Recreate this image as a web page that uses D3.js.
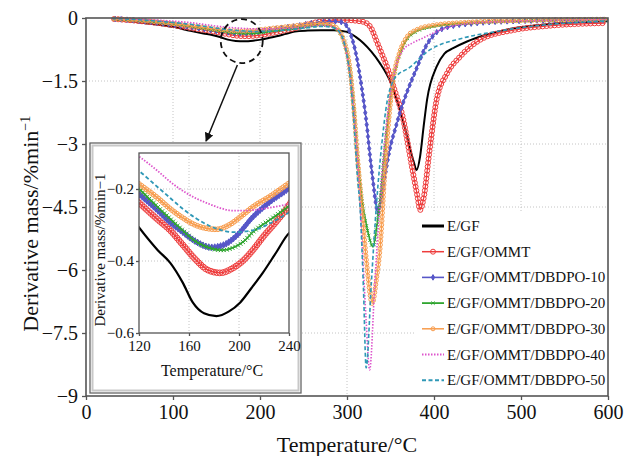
<!DOCTYPE html>
<html>
<head>
<meta charset="utf-8">
<script src="https://cdn.jsdelivr.net/npm/d3@7"></script>
<style>
body { margin: 0; background: #fff; }
svg, text { font-family: "Liberation Serif", "Times New Roman", Times, serif; }
text { fill: #111; }
</style>
</head>
<body>
<script>
// tick values
var xTicks = [0, 100, 200, 300, 400, 500, 600];
var yTicks = [0, -1.5, -3, -4.5, -6, -7.5, -9];
var insetXTicks = [120, 160, 200, 240];
var insetYTicks = [-0.2, -0.4, -0.6];

var names = ["E/GF", "E/GF/OMMT", "E/GF/OMMT/DBDPO-10", "E/GF/OMMT/DBDPO-20",
             "E/GF/OMMT/DBDPO-30", "E/GF/OMMT/DBDPO-40", "E/GF/OMMT/DBDPO-50"];

// [temperature, derivative mass]
var egf = [[30,-0.03],[60,-0.1],[90,-0.18],[100,-0.21],[120,-0.307],[135,-0.37],[145,-0.405],[155,-0.46],[163,-0.515],[172,-0.545],[182,-0.553],[192,-0.54],[201,-0.515],[210,-0.475],[219,-0.433],[230,-0.375],[240,-0.323],[255,-0.3],[270,-0.29],[285,-0.29],[300,-0.33],[310,-0.45],[319,-0.6],[328,-0.8],[338,-1.08],[349,-1.48],[361,-2.19],[372,-3.07],[377,-3.45],[380,-3.62],[384,-3.3],[388,-2.6],[392,-1.95],[403,-1.16],[412,-0.85],[422,-0.72],[438,-0.56],[460,-0.4],[490,-0.25],[530,-0.15],[600,-0.08]];
var egfOmmt = [[30,-0.02],[60,-0.07],[90,-0.14],[120,-0.238],[135,-0.285],[145,-0.315],[155,-0.355],[165,-0.395],[175,-0.425],[185,-0.433],[195,-0.42],[203,-0.4],[211,-0.37],[220,-0.33],[230,-0.29],[240,-0.245],[255,-0.15],[270,-0.08],[285,-0.05],[300,-0.05],[312,-0.07],[320,-0.1],[328,-0.25],[334,-0.55],[340,-0.85],[346,-1.16],[356,-1.8],[364,-2.35],[370,-3.0],[376,-3.7],[381,-4.25],[384,-4.57],[388,-4.3],[395,-3.14],[403,-1.95],[415,-1.32],[430,-0.92],[453,-0.52],[491,-0.29],[530,-0.19],[597,-0.12]];
var dbdpo10 = [[30,-0.02],[60,-0.06],[90,-0.13],[120,-0.214],[135,-0.26],[145,-0.293],[155,-0.32],[165,-0.345],[178,-0.362],[188,-0.355],[198,-0.33],[211,-0.278],[225,-0.235],[240,-0.197],[255,-0.14],[270,-0.1],[285,-0.08],[294,-0.1],[300,-0.2],[306,-0.5],[311,-0.92],[315,-1.4],[319,-1.95],[323,-2.6],[326,-3.2],[330,-3.9],[333,-4.4],[336,-4.65],[339,-4.35],[343,-3.85],[349,-3.14],[356,-2.6],[364,-2.05],[372,-1.6],[380,-1.2],[390,-0.7],[400,-0.4],[415,-0.22],[450,-0.12],[500,-0.07],[600,-0.04]];
var dbdpo20 = [[30,-0.02],[60,-0.06],[90,-0.12],[120,-0.2],[135,-0.25],[145,-0.283],[155,-0.315],[165,-0.345],[175,-0.362],[186,-0.37],[196,-0.362],[204,-0.345],[211,-0.32],[225,-0.285],[240,-0.247],[255,-0.2],[270,-0.17],[280,-0.18],[290,-0.3],[297,-0.6],[303,-1.2],[308,-2.2],[312,-3.3],[317,-4.3],[323,-5.0],[330,-5.45],[334,-5.0],[338,-4.33],[345,-2.8],[353,-1.48],[360,-0.9],[369,-0.5],[380,-0.32],[400,-0.2],[440,-0.12],[500,-0.07],[600,-0.04]];
var dbdpo30 = [[30,-0.02],[60,-0.055],[90,-0.11],[120,-0.186],[135,-0.225],[145,-0.255],[155,-0.28],[165,-0.3],[175,-0.31],[182,-0.312],[192,-0.3],[202,-0.275],[211,-0.25],[225,-0.22],[240,-0.184],[255,-0.15],[270,-0.13],[280,-0.15],[290,-0.28],[297,-0.58],[303,-1.15],[308,-2.2],[312,-3.3],[317,-4.5],[322,-5.7],[329,-6.8],[334,-6.2],[338,-5.5],[344,-3.5],[353,-1.48],[360,-0.85],[369,-0.45],[380,-0.28],[400,-0.17],[440,-0.1],[500,-0.06],[600,-0.03]];
var dbdpo40 = [[30,-0.01],[60,-0.03],[90,-0.06],[120,-0.11],[135,-0.15],[145,-0.18],[155,-0.205],[165,-0.225],[175,-0.24],[185,-0.253],[195,-0.26],[205,-0.26],[215,-0.257],[228,-0.25],[240,-0.24],[255,-0.21],[270,-0.18],[282,-0.2],[292,-0.35],[300,-0.9],[305,-1.6],[310,-2.8],[314,-4.0],[318,-5.6],[322,-7.2],[326,-8.38],[332,-6.3],[338,-4.33],[344,-2.8],[350,-1.8],[357,-1.1],[365,-0.75],[375,-0.6],[387,-0.48],[400,-0.35],[420,-0.2],[460,-0.1],[600,-0.04]];
var dbdpo50 = [[30,-0.01],[60,-0.04],[90,-0.09],[120,-0.15],[135,-0.195],[145,-0.225],[155,-0.255],[165,-0.28],[175,-0.3],[182,-0.31],[195,-0.32],[205,-0.318],[211,-0.315],[225,-0.295],[240,-0.265],[255,-0.23],[270,-0.2],[282,-0.22],[290,-0.3],[298,-0.7],[303,-1.3],[308,-2.5],[312,-3.8],[315,-4.5],[319,-6.5],[322,-8.33],[328,-6.3],[334,-4.4],[340,-3.0],[346,-2.0],[353,-1.5],[360,-1.32],[369,-1.22],[395,-0.76],[433,-0.48],[472,-0.32],[530,-0.16],[600,-0.07]];

var seriesData = [egf, egfOmmt, dbdpo10, dbdpo20, dbdpo30, dbdpo40, dbdpo50];

// line styles, same order as names
var styles = [
    {color: "#000000", width: 2, dash: null, marker: null},
    {color: "#ee3c3c", width: 1.2, dash: null, marker: "circle", r: 2.5, step: 4},
    {color: "#5656c8", width: 1.3, dash: null, marker: "diamond", size: 9, step: 6},
    {color: "#2fa52f", width: 1.5, dash: null, marker: "x", size: 8, step: 5},
    {color: "#f89c4c", width: 1.2, dash: null, marker: "circle", r: 2, step: 4},
    {color: "#dd55cc", width: 1.6, dash: "1.5,1.5", marker: null},
    {color: "#2f98b6", width: 1.6, dash: "4,2.5", marker: null}
];

var svg = d3.select("body").append("svg")
    .attr("width", 625)
    .attr("height", 456);

var x = d3.scaleLinear().domain([0, 600]).range([86, 608]);
var y = d3.scaleLinear().domain([-9, 0]).range([396, 18]);

// dotted grid
svg.append("g").selectAll("line")
    .data(xTicks.slice(1, -1)).enter().append("line")
    .attr("x1", d => x(d)).attr("x2", d => x(d))
    .attr("y1", y(0)).attr("y2", y(-9))
    .attr("stroke", "#c4c4c4").attr("stroke-dasharray", "1,2");
svg.append("g").selectAll("line")
    .data(yTicks.slice(1, -1)).enter().append("line")
    .attr("y1", d => y(d)).attr("y2", d => y(d))
    .attr("x1", x(0)).attr("x2", x(600))
    .attr("stroke", "#c4c4c4").attr("stroke-dasharray", "1,2");

var line = d3.line()
    .x(d => x(d[0]))
    .y(d => y(d[1]))
    .curve(d3.curveMonotoneX);

// markers spread evenly along a drawn path
function addMarkers(g, node, s)
{
    var len = node.getTotalLength();
    var pts = d3.range(s.step / 2, len, s.step).map(l => node.getPointAtLength(l));
    drawMarker(g, pts, s);
}

function drawMarker(g, pts, s)
{
    if (s.marker == "circle")
    {
        g.selectAll(null).data(pts).enter().append("circle")
            .attr("cx", p => p.x).attr("cy", p => p.y).attr("r", s.r)
            .attr("fill", "none").attr("stroke", s.color).attr("stroke-width", 1);
    }
    else if (s.marker)
    {
        var sym = d3.symbol()
            .type(s.marker == "diamond" ? d3.symbolDiamond : d3.symbolX)
            .size(s.size);
        g.selectAll(null).data(pts).enter().append("path")
            .attr("d", sym)
            .attr("transform", p => "translate(" + p.x + "," + p.y + ")")
            .attr("fill", s.marker == "diamond" ? s.color : "none")
            .attr("stroke", s.color).attr("stroke-width", 1);
    }
}

var curves = svg.append("g");
seriesData.forEach(function(data, i)
{
    var s = styles[i];
    var p = curves.append("path")
        .datum(data)
        .attr("d", line)
        .attr("fill", "none")
        .attr("stroke", s.color)
        .attr("stroke-width", s.width)
        .attr("stroke-dasharray", s.dash);
    addMarkers(curves, p.node(), s);
});

// frame and axes
svg.append("rect")
    .attr("x", x(0)).attr("y", y(0))
    .attr("width", x(600) - x(0)).attr("height", y(-9) - y(0))
    .attr("fill", "none").attr("stroke", "#555").attr("stroke-width", 1.6);

var fmt = d3.format("");
function styleAxis(g, size)
{
    g.attr("font-family", null).attr("font-size", null);
    g.select(".domain").remove();
    g.selectAll("line").attr("stroke", "#555").attr("stroke-width", 1.3);
    g.selectAll("text").attr("font-size", size).attr("fill", "#111");
}

svg.append("g")
    .attr("transform", "translate(0," + y(-9) + ")")
    .call(d3.axisBottom(x).tickValues(xTicks).tickSize(4).tickPadding(5).tickFormat(fmt))
    .call(g => styleAxis(g, 20));

svg.append("g")
    .attr("transform", "translate(" + x(0) + ",0)")
    .call(d3.axisLeft(y).tickValues(yTicks).tickSize(4).tickPadding(4).tickFormat(fmt))
    .call(g => styleAxis(g, 20));

svg.append("text")
    .attr("x", (x(0) + x(600)) / 2).attr("y", 452)
    .attr("text-anchor", "middle").attr("font-size", 22)
    .text("Temperature/°C");

var ylab = svg.append("text")
    .attr("transform", "translate(38," + y(-4.9) + ") rotate(-90)")
    .attr("text-anchor", "middle").attr("font-size", 22);
ylab.append("tspan").text("Derivative mass/%min");
ylab.append("tspan").attr("font-size", 14).attr("dy", -8).text("−1");

// legend, white box hides the grid behind it
var legend = svg.append("g");
legend.append("rect")
    .attr("x", 414).attr("y", 213).attr("width", 192).attr("height", 181)
    .attr("fill", "#fff");
names.forEach(function(name, i)
{
    var s = styles[i];
    var ly = 226 + i * 25.7;
    legend.append("line")
        .attr("x1", 422).attr("x2", 444).attr("y1", ly).attr("y2", ly)
        .attr("stroke", s.color).attr("stroke-width", s.width + (i == 0 ? 1 : 0.3))
        .attr("stroke-dasharray", s.dash);
    drawMarker(legend, [{x: 433, y: ly}], s);
    legend.append("text")
        .attr("x", 447).attr("y", ly + 5)
        .attr("font-size", 15)
        .text(name);
});

// dashed circle and arrow pointing to the inset
svg.append("ellipse")
    .attr("cx", x(179)).attr("cy", y(-0.55))
    .attr("rx", 21).attr("ry", 22)
    .attr("fill", "none").attr("stroke", "#111")
    .attr("stroke-width", 1.8).attr("stroke-dasharray", "6,4");

svg.append("defs").append("marker")
    .attr("id", "arrow").attr("viewBox", "0 0 10 10")
    .attr("refX", 9).attr("refY", 5)
    .attr("markerWidth", 9).attr("markerHeight", 9)
    .attr("markerUnits", "userSpaceOnUse")
    .attr("orient", "auto")
    .append("path").attr("d", "M0,0 L10,5 L0,10 z").attr("fill", "#111");

svg.append("line")
    .attr("x1", x(174)).attr("y1", y(-1.12))
    .attr("x2", x(138)).attr("y2", y(-2.93))
    .attr("stroke", "#111").attr("stroke-width", 1.5)
    .attr("marker-end", "url(#arrow)");

// ---------------- inset ----------------
var ix = d3.scaleLinear().domain([120, 240]).range([139, 289]);
var iy = d3.scaleLinear().domain([-0.6, -0.1]).range([333, 153]);

svg.append("rect")
    .attr("x", 90).attr("y", 143).attr("width", 211).attr("height", 250)
    .attr("fill", "#fff").attr("stroke", "#666").attr("stroke-width", 1.3);
svg.append("rect")
    .attr("x", 92.5).attr("y", 145.5).attr("width", 206).attr("height", 245)
    .attr("fill", "none").attr("stroke", "#c8c8c8").attr("stroke-width", 2);

var inset = svg.append("g");

inset.append("g").selectAll("line")
    .data([160, 200]).enter().append("line")
    .attr("x1", d => ix(d)).attr("x2", d => ix(d))
    .attr("y1", iy(-0.1)).attr("y2", iy(-0.6))
    .attr("stroke", "#c4c4c4").attr("stroke-dasharray", "1,2");
inset.append("g").selectAll("line")
    .data([-0.2, -0.4]).enter().append("line")
    .attr("y1", d => iy(d)).attr("y2", d => iy(d))
    .attr("x1", ix(120)).attr("x2", ix(240))
    .attr("stroke", "#c4c4c4").attr("stroke-dasharray", "1,2");

svg.append("clipPath").attr("id", "insetClip")
    .append("rect")
    .attr("x", ix(120)).attr("y", iy(-0.1))
    .attr("width", ix(240) - ix(120)).attr("height", iy(-0.6) - iy(-0.1));

var iline = d3.line()
    .x(d => ix(d[0]))
    .y(d => iy(d[1]))
    .curve(d3.curveMonotoneX);

var icurves = inset.append("g").attr("clip-path", "url(#insetClip)");
seriesData.forEach(function(data, i)
{
    var s = styles[i];
    var part = data.filter(d => d[0] >= 90 && d[0] <= 270);
    var p = icurves.append("path")
        .datum(part)
        .attr("d", iline)
        .attr("fill", "none")
        .attr("stroke", s.color)
        .attr("stroke-width", s.width + 0.2)
        .attr("stroke-dasharray", s.dash);
    if (s.marker)
    {
        var is = Object.assign({}, s, {step: 3, r: s.r ? s.r + 0.4 : s.r, size: s.size ? s.size + 4 : s.size});
        addMarkers(icurves, p.node(), is);
    }
});

inset.append("rect")
    .attr("x", ix(120)).attr("y", iy(-0.1))
    .attr("width", ix(240) - ix(120)).attr("height", iy(-0.6) - iy(-0.1))
    .attr("fill", "none").attr("stroke", "#555").attr("stroke-width", 1.3);

inset.append("g")
    .attr("transform", "translate(0," + iy(-0.6) + ")")
    .call(d3.axisBottom(ix).tickValues(insetXTicks).tickSize(3).tickPadding(4).tickFormat(fmt))
    .call(g => styleAxis(g, 15));

inset.append("g")
    .attr("transform", "translate(" + ix(120) + ",0)")
    .call(d3.axisLeft(iy).tickValues(insetYTicks).tickSize(3).tickPadding(2).tickFormat(fmt))
    .call(g => styleAxis(g, 15));

inset.append("text")
    .attr("x", 212).attr("y", 376)
    .attr("text-anchor", "middle").attr("font-size", 16)
    .text("Temperature/°C");

inset.append("text")
    .attr("transform", "translate(105,250) rotate(-90)")
    .attr("text-anchor", "middle").attr("font-size", 15)
    .text("Derivative mass/%min−1");
</script>
</body>
</html>
